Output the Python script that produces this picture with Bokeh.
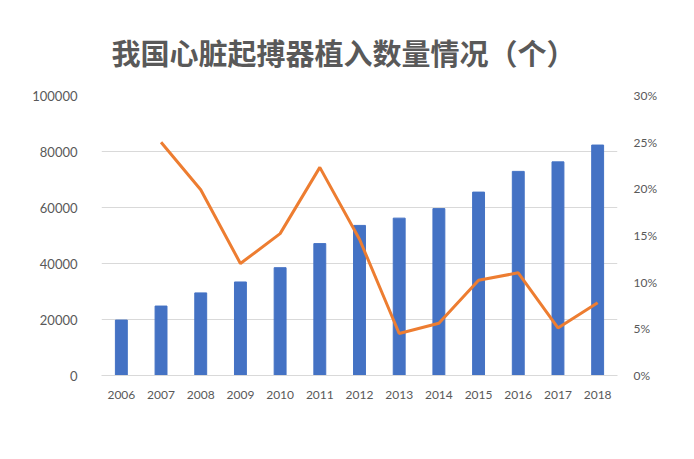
from bokeh.plotting import figure
from bokeh.models import (FactorRange, Range1d, LinearAxis, NumeralTickFormatter,
                          PrintfTickFormatter, FixedTicker, Legend, LegendItem)
from bokeh.embed import file_html
from bokeh.resources import INLINE

years = ["2006", "2007", "2008", "2009", "2010", "2011", "2012",
         "2013", "2014", "2015", "2016", "2017", "2018"]
implants = [19800, 24800, 29500, 33400, 38500, 47100, 53600,
            56200, 59600, 65500, 72900, 76300, 82300]
yoy_years = years[1:]
yoy_pct = [25.0, 19.9, 12.0, 15.2, 22.3, 14.6, 4.5, 5.6, 10.2, 11.0, 5.1, 7.8]
left_ticks = [0, 20000, 40000, 60000, 80000, 100000]
right_ticks = [0, 5, 10, 15, 20, 25, 30]

title_text = "我国心脏起搏器植入数量情况（个）"
bar_name = "起搏器植入量（个）"
line_name = "植入量yoy"

BLUE = "#4472C4"
ORANGE = "#ED7D31"
GREY = "#595959"
GRID = "#D9D9D9"
NUM_FONT = "Lato"
CJK_FONT = "Noto Sans CJK SC"

p = figure(frame_width=516, frame_height=280, x_range=FactorRange(*years, range_padding=0.0),
           y_range=Range1d(0, 100000), output_backend="svg", toolbar_location=None,
           min_border_left=101, min_border_right=61, min_border_top=95, min_border_bottom=60)
p.extra_y_ranges = {"pct": Range1d(0, 30)}
p.outline_line_color = None
p.background_fill_color = "white"
p.border_fill_color = "white"

p.title.text = title_text
p.title.text_font = CJK_FONT
p.title.text_font_size = "29px"
p.title.text_font_style = "bold"
p.title.text_color = GREY
p.title.align = "left"
p.title.offset = 10
p.title.standoff = 45

bars = p.vbar(x=years, top=implants, width=0.3, color=BLUE)
line = p.line(x=yoy_years, y=yoy_pct, y_range_name="pct", line_color=ORANGE, line_width=3)

xa = p.xaxis[0]
xa.axis_line_color = GRID
xa.major_tick_line_color = None
xa.minor_tick_line_color = None
xa.major_label_text_font = NUM_FONT
xa.major_label_text_font_size = "12px"
xa.major_label_text_color = GREY
xa.major_label_standoff = 9

ya = p.yaxis[0]
ya.ticker = FixedTicker(ticks=left_ticks)
ya.formatter = NumeralTickFormatter(format="0")
ya.axis_line_color = None
ya.major_tick_line_color = None
ya.minor_tick_line_color = None
ya.major_label_text_font = NUM_FONT
ya.major_label_text_font_size = "13px"
ya.major_label_text_color = GREY
ya.major_label_standoff = 18

ra = LinearAxis(y_range_name="pct", ticker=FixedTicker(ticks=right_ticks),
                formatter=PrintfTickFormatter(format="%d%%"))
ra.axis_line_color = None
ra.major_tick_line_color = None
ra.minor_tick_line_color = None
ra.major_label_text_font = NUM_FONT
ra.major_label_text_font_size = "12px"
ra.major_label_text_color = GREY
ra.major_label_standoff = 10
p.add_layout(ra, "right")

p.xgrid.grid_line_color = None
p.ygrid.ticker = FixedTicker(ticks=left_ticks)
p.ygrid.grid_line_color = GRID
p.ygrid.grid_line_width = 1

legend = Legend(items=[LegendItem(label=bar_name, renderers=[bars]),
                       LegendItem(label=line_name, renderers=[line])],
                orientation="horizontal", location="top_center",
                glyph_width=30, glyph_height=8, label_height=8, label_width=104,
                spacing=34, padding=0, margin=24, label_standoff=4,
                label_text_font=CJK_FONT, label_text_font_size="15px",
                label_text_color=GREY, border_line_color=None,
                background_fill_alpha=0)
p.add_layout(legend, "below")

open("out.html", "w").write(file_html(p, INLINE))
